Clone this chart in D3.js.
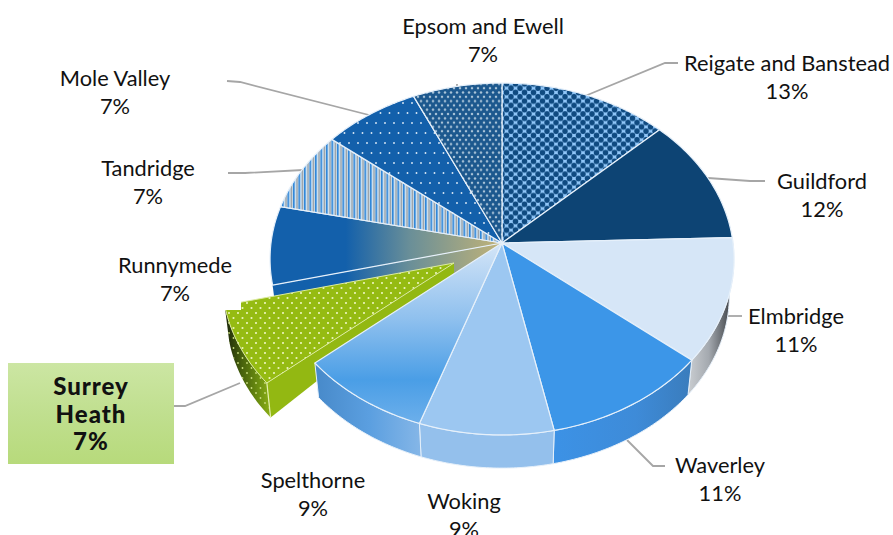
<!DOCTYPE html>
<html>
<head>
<meta charset="utf-8">
<script src="https://cdnjs.cloudflare.com/ajax/libs/d3/7.8.5/d3.min.js"></script>
<style>
html, body {margin: 0; padding: 0; background: #fff; overflow: hidden;}
text {font-family: Lato, "Open Sans", sans-serif; font-size: 21.8px; fill: #111; text-anchor: middle;}
.leader {fill: none; stroke: #a6a6a6; stroke-width: 1.8;}
</style>
</head>
<body>
<svg id="chart" width="893" height="535"></svg>
<script>
//values, labels keep the rounded percentages shown
var boroughs = ["Reigate and Banstead", "Guildford", "Elmbridge", "Waverley", "Woking", "Spelthorne",
	"Surrey Heath", "Runnymede", "Tandridge", "Mole Valley", "Epsom and Ewell"];
var shares = [12.9, 11.6, 11.4, 10.8, 8.6, 8.5, 7.4, 7.2, 7.4, 7.4, 6.8];
var shareLabels = ["13%", "12%", "11%", "11%", "9%", "9%", "7%", "7%", "7%", "7%", "7%"];
var labelCentres = [[787, 71], [822, 189], [796, 324], [720, 473], [464, 509], [313, 488], [91, 395], [175, 273], [148, 176], [115, 86], [483, 34]];

//define variables for the tilted pie
var centre = {x: 502, y: 243};
var radius = {x: 231, y: 174.5};
var tilt = 0.0909;
var depth = {drop: 37, shrink: 0.98};
var explode = {dx: -48, dy: 20, tipDepth: 10};

var svg = d3.select("#chart");
var defs = svg.append("defs");

//maps a pie angle and a fraction of the radius onto the picture
function project(angle, r) {
	var u = Math.sin(angle) * r, v = -Math.cos(angle) * r;
	var w = 1 / (1 - tilt * v);
	return [radius.x * u * w, radius.y * v * w];
}

function lower(p) {
	return [p[0] * depth.shrink, p[1] * depth.shrink + depth.drop];
}

function rim(d, flip) {
	var steps = d3.range(0, 41).map(function(i) {
		return project(d.startAngle + (d.endAngle - d.startAngle) * i / 40, 1);
	});
	return flip ? steps.reverse() : steps;
}

var line = d3.line();
function topPath(d) {
	return line([[0, 0]].concat(rim(d))) + "Z";
}
function wallPath(d) {
	return line(rim(d).concat(rim(d, true).map(lower))) + "Z";
}

//fill patterns
function addPattern(id, w, h, bg, draw) {
	var p = defs.append("pattern").attr("id", id).attr("patternUnits", "userSpaceOnUse")
		.attr("width", w).attr("height", h);
	if (bg) p.append("rect").attr("width", w).attr("height", h).attr("fill", bg);
	draw(p);
}
function dots(p, w, h, r, col) {
	[[0, 0], [w, 0], [0, h], [w, h], [w / 2, h / 2]].forEach(function(q) {
		p.append("circle").attr("cx", q[0]).attr("cy", q[1]).attr("r", r).attr("fill", col);
	});
}
addPattern("reigate", 9, 8.6, "#90c6f8", function(p) { dots(p, 9, 8.6, 2.75, "#0f4a80"); });
addPattern("epsom", 6, 8.6, "#1c588e", function(p) {
	dots(p, 6, 8.6, 1.25, "#a9c3d8");
});
addPattern("mole", 9, 20, "#1360ab", function(p) { dots(p, 9, 20, 0.95, "#dbe9f6"); });
addPattern("tandridge", 5.5, 5, "#d2e7f8", function(p) {
	p.append("rect").attr("x", 0).attr("width", 1.6).attr("height", 5).attr("fill", "#2f86d8");
	p.append("rect").attr("x", 3.2).attr("width", 1.6).attr("height", 5).attr("fill", "#9aa0a6");
});
addPattern("surrey", 9, 10, "#95bb12", function(p) { dots(p, 9, 10, 1.05, "#eef6c0"); });
addPattern("surreyDots", 9, 10, null, function(p) { dots(p, 9, 10, 0.9, "#c8dc80"); });

//gradients, in picture coordinates
function addGradient(id, x1, y1, x2, y2, stops) {
	var g = defs.append("linearGradient").attr("id", id).attr("gradientUnits", "userSpaceOnUse")
		.attr("x1", x1).attr("y1", y1).attr("x2", x2).attr("y2", y2);
	stops.forEach(function(s) {
		g.append("stop").attr("offset", s[0]).attr("stop-color", s[1]);
	});
}
addGradient("runny", -230, 0, 0, 0, [[0, "#1360ab"], [0.32, "#1360ab"], [0.6, "#6a8f98"], [1, "#c2b377"]]);
addGradient("spelTop", 0, 0, 0, 190, [[0, "#d4e5f7"], [0.4, "#8fc0ee"], [0.72, "#4a9ee6"], [1, "#74b3ec"]]);
addGradient("spelWall", -190, 0, -75, 0, [[0, "#4688c8"], [0.5, "#5b9fe0"], [1, "#8ab9e8"]]);
addGradient("wavWall", 50, 0, 190, 0, [[0, "#3c92e6"], [0.6, "#3e8bd8"], [1, "#3a7cbc"]]);
addGradient("elmWall", 187, 0, 231, 0, [[0, "#c8ccd0"], [0.45, "#a4a9af"], [0.85, "#55595e"], [1, "#2c2e30"]]);
addGradient("surWall", -230, 0, -186, 0, [[0, "#18220a"], [0.4, "#46600c"], [0.75, "#688a10"], [1, "#84a814"]]);
addGradient("labelBox", 0, 363, 0, 464, [[0, "#cce6a3"], [0.5, "#c0df8f"], [1, "#b7da7b"]]);

var topFills = ["url(#reigate)", "#0d4474", "#d6e6f7", "#3c96e8", "#9cc7f1", "url(#spelTop)",
	"url(#surrey)", "url(#runny)", "url(#tandridge)", "url(#mole)", "url(#epsom)"];
var wallFills = {Elmbridge: "url(#elmWall)", Waverley: "url(#wavWall)", Woking: "#94c0ec", Spelthorne: "url(#spelWall)"};

var slices = d3.pie().sort(null).value(function(d) { return d; })(shares);
slices.forEach(function(d, i) { d.name = boroughs[i]; d.fillTop = topFills[i]; });

var pieG = svg.append("g").attr("transform", "translate(" + centre.x + "," + centre.y + ")");
var edge = "#e6f0fa";

//leaders go first, the pie sits over their ends
var leaders = [
	[[585, 96], [665, 63], [678, 63]],
	[[708, 178], [750, 181], [765, 181]],
	[[720, 316], [742, 316]],
	[[627, 440], [653, 466], [665, 466]],
	[[240, 383], [185, 406], [174, 406]],
	[[303, 170], [245, 173], [228, 173]],
	[[369, 115], [240, 82], [227, 81]],
	[[457, 84], [457, 88]]
];
svg.selectAll(".leader").data(leaders).enter().append("path")
	.attr("class", "leader")
	.attr("d", function(d) { return line(d); });
pieG.raise();

var byName = {};
slices.forEach(function(d) { byName[d.name] = d; });

//cut face of Runnymede, seen through the gap the exploded slice leaves
var runny = byName["Runnymede"];
var runnyEdge = project(runny.startAngle, 1);
pieG.append("path")
	.attr("d", line([[0, 0], runnyEdge, lower(runnyEdge), [0, depth.drop]]) + "Z")
	.attr("fill", "url(#runny)");

//exploded slice
var surrey = byName["Surrey Heath"];
var surreyG = pieG.append("g").attr("transform", "translate(" + explode.dx + "," + explode.dy + ")");
surreyG.append("path").attr("d", wallPath(surrey)).attr("fill", "url(#surWall)");
surreyG.append("path").attr("d", wallPath(surrey)).attr("fill", "url(#surreyDots)");
var surreyStart = project(surrey.startAngle, 1);
surreyG.append("path")
	.attr("d", line([[0, 0], surreyStart, lower(surreyStart), [0, explode.tipDepth]]) + "Z")
	.attr("fill", "#93b812");
surreyG.append("path").attr("d", line([surreyStart, lower(surreyStart)])).attr("stroke", "#e4efb0").attr("stroke-width", 1.2);
surreyG.append("path").attr("d", topPath(surrey)).attr("fill", surrey.fillTop)
	.attr("stroke", "#dceba0").attr("stroke-width", 1);
//the notch the original has on the top corner of the slice
svg.append("rect").attr("x", 215).attr("y", 292).attr("width", 26).attr("height", 18).attr("fill", "#fff");

//rest of the pie: walls then tops
var others = slices.filter(function(d) { return d.name != "Surrey Heath"; });
pieG.selectAll(".wall").data(others.filter(function(d) { return wallFills[d.name]; })).enter().append("path")
	.attr("class", "wall")
	.attr("d", wallPath)
	.attr("fill", function(d) { return wallFills[d.name]; })
	.attr("stroke", edge).attr("stroke-width", 1);

pieG.selectAll(".top").data(others).enter().append("path")
	.attr("class", "top")
	.attr("d", topPath)
	.attr("fill", function(d) { return d.fillTop; })
	.attr("stroke", edge).attr("stroke-width", 1.2)
	.attr("stroke-linejoin", "round");

//labels, Surrey Heath gets its own box
svg.append("rect").attr("x", 8).attr("y", 363).attr("width", 166).attr("height", 101).attr("fill", "url(#labelBox)");

boroughs.forEach(function(name, i) {
	var c = labelCentres[i];
	if (name == "Surrey Heath") {
		var t = svg.append("text").attr("x", c[0]).attr("y", c[1]).style("font-weight", "900")
			.style("font-size", "24px").style("letter-spacing", "1px");
		t.append("tspan").attr("x", c[0]).text("Surrey");
		t.append("tspan").attr("x", c[0]).attr("dy", 28).text("Heath");
		t.append("tspan").attr("x", c[0]).attr("dy", 27).text(shareLabels[i]);
	}
	else {
		var lab = svg.append("text").attr("x", c[0]).attr("y", c[1]);
		lab.append("tspan").attr("x", c[0]).text(name);
		lab.append("tspan").attr("x", c[0]).attr("dy", 28).text(shareLabels[i]);
	}
});
</script>
</body>
</html>
